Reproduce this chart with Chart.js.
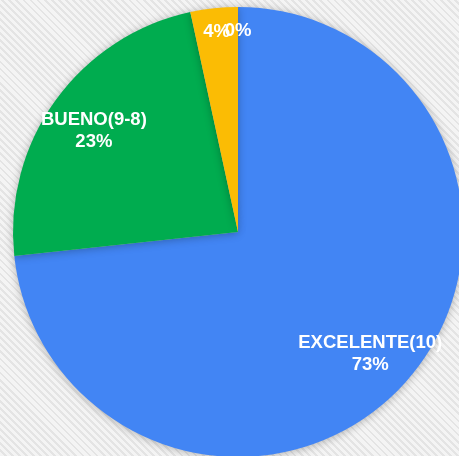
<!DOCTYPE html>
<html>
<head>
<meta charset="utf-8">
<script src="https://cdn.jsdelivr.net/npm/chart.js@4"></script>
<style>
  html, body {
    margin: 0;
    padding: 0;
    width: 459px;
    height: 456px;
    overflow: hidden;
    background: repeating-linear-gradient(45deg, #f4f4f4 0px, #f4f4f4 3px, #e4e4e4 3px, #e4e4e4 5px);
  }
  #wrap {
    position: absolute;
    left: 3px;
    top: -3px;
    width: 470px;
    height: 470px;
  }
</style>
</head>
<body>
<div id="wrap"><canvas id="pie" width="470" height="470"></canvas></div>
<script>
const categories = ['EXCELENTE(10)', 'BUENO(9-8)', 'REGULAR(7-6)', 'DEFICIENTE(5-0)'];
// slice shares as measured from the angles in the picture
const shares = [73.3, 23.3, 3.4, 0];
// percentage labels as printed on the slices
const pctLabels = ['73%', '23%', '4%', '0%'];
const colors = ['#4285f4', '#00ac4f', '#fbbc04', '#ea4335'];
// only the two big slices show their category name
const showName = [true, true, false, false];

// soft grey shadow round the pie, like the original
const pieShadow = {
  id: 'pieShadow',
  beforeDatasetDraw(chart) {
    const ctx = chart.ctx;
    ctx.save();
    ctx.shadowColor = 'rgba(0,0,0,0.28)';
    ctx.shadowBlur = 9;
    ctx.shadowOffsetX = 0;
    ctx.shadowOffsetY = 1;
  },
  afterDatasetDraw(chart) {
    chart.ctx.restore();
  },
};

const sliceLabels = {
  id: 'sliceLabels',
  afterDatasetsDraw(chart) {
    const ctx = chart.ctx;
    const meta = chart.getDatasetMeta(0);
    ctx.save();
    ctx.fillStyle = '#ffffff';
    ctx.font = 'bold 18.5px "Liberation Sans", Arial, sans-serif';
    ctx.textAlign = 'center';
    ctx.textBaseline = 'middle';
    meta.data.forEach((arc, i) => {
      const p = arc.getProps(['x', 'y', 'startAngle', 'endAngle', 'outerRadius'], true);
      const mid = (p.startAngle + p.endAngle) / 2;
      if (showName[i]) {
        const r = p.outerRadius * 0.79;
        const x = p.x + Math.cos(mid) * r;
        const y = p.y + Math.sin(mid) * r;
        ctx.fillText(categories[i], x, y - 8);
        ctx.fillText(pctLabels[i], x, y + 14);
      } else {
        const r = p.outerRadius * 0.895;
        ctx.fillText(pctLabels[i], p.x + Math.cos(mid) * r, p.y + Math.sin(mid) * r);
      }
    });
    ctx.restore();
  },
};

new Chart(document.getElementById('pie'), {
  type: 'pie',
  data: {
    labels: categories,
    datasets: [{
      data: shares,
      backgroundColor: colors,
      borderWidth: 0,
    }],
  },
  options: {
    responsive: false,
    animation: false,
    layout: { padding: 10 },
    plugins: {
      legend: { display: false },
      tooltip: { enabled: false },
    },
  },
  plugins: [pieShadow, sliceLabels],
});
</script>
</body>
</html>
